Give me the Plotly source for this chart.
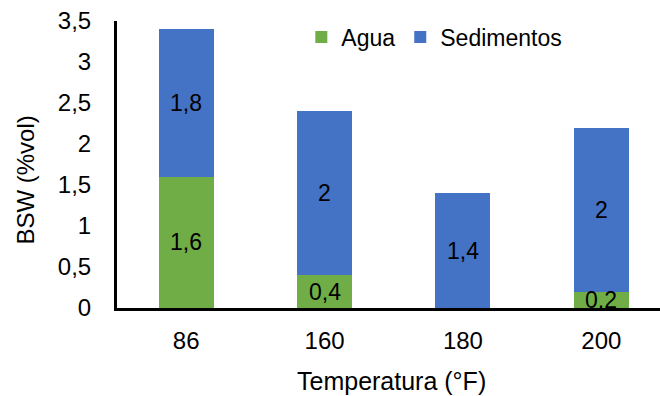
import plotly.graph_objects as go

# Temperatura (°F) vs BSW split into water and sediments
temperaturas = ["86", "160", "180", "200"]
agua = [1.6, 0.4, 0.0, 0.2]
sedimentos = [1.8, 2.0, 1.4, 2.0]
y_ticks = [0, 0.5, 1, 1.5, 2, 2.5, 3, 3.5]

VERDE = "#70AD47"
AZUL = "#4472C4"
FONT = "Liberation Sans, Arial, sans-serif"

W, H = 660, 396
M_L, M_R, M_T, M_B = 116.5, 0, 21, 88
plot_w = W - M_L - M_R
plot_h = H - M_T - M_B
cat_step = 138.5  # px per category
x_end = -0.5 + plot_w / cat_step


def fmt(v):
    return f"{v:g}".replace(".", ",")


fig = go.Figure()
fig.add_trace(go.Bar(name="Agua", x=temperaturas, y=agua,
                     marker=dict(color=VERDE, line=dict(width=0))))
fig.add_trace(go.Bar(name="Sedimentos", x=temperaturas, y=sedimentos,
                     marker=dict(color=AZUL, line=dict(width=0))))

# value labels centred in each stacked segment (x given as category index)
annotations = []
for i, (a, s) in enumerate(zip(agua, sedimentos)):
    if a > 0:
        annotations.append(dict(x=i, y=a / 2, xref="x", yref="y", text=fmt(a),
                                showarrow=False, font=dict(size=23, color="black", family=FONT)))
    if s > 0:
        annotations.append(dict(x=i, y=a + s / 2, xref="x", yref="y", text=fmt(s),
                                showarrow=False, font=dict(size=23, color="black", family=FONT)))


def px_to_paper_x(px):
    return (px - M_L) / plot_w


def px_to_paper_y(py):
    return (H - M_B - py) / plot_h


annotations.append(dict(x=px_to_paper_x(24), y=px_to_paper_y(180), xref="paper", yref="paper",
                        text="BSW (%vol)", textangle=-90, showarrow=False,
                        xanchor="center", yanchor="middle",
                        font=dict(size=24, color="black", family=FONT)))
annotations.append(dict(x=px_to_paper_x(391), y=px_to_paper_y(381), xref="paper", yref="paper",
                        text="Temperatura (°F)", showarrow=False,
                        xanchor="center", yanchor="middle",
                        font=dict(size=25, color="black", family=FONT)))

fig.update_layout(
    width=W, height=H,
    margin=dict(l=M_L, r=M_R, t=M_T, b=M_B, pad=0),
    barmode="stack",
    bargap=0.603,
    separators=",.",
    paper_bgcolor="white",
    plot_bgcolor="white",
    font=dict(family=FONT, color="black", size=24),
    showlegend=True,
    legend=dict(orientation="h", x=px_to_paper_x(301), y=px_to_paper_y(37),
                xanchor="left", yanchor="middle", bgcolor="rgba(0,0,0,0)",
                traceorder="normal",
                font=dict(size=23, color="black", family=FONT),
                itemsizing="constant", tracegroupgap=0),
    annotations=annotations,
)
fig.update_xaxes(type="category", range=[-0.5, x_end], showline=True, linewidth=3,
                 linecolor="black", showgrid=False, ticks="", ticklabelstandoff=9,
                 tickfont=dict(size=24, color="black", family=FONT), zeroline=False)
fig.update_yaxes(range=[0, 3.5], tickvals=y_ticks, showline=True, linewidth=3,
                 linecolor="black", showgrid=False, ticks="", ticklabelstandoff=18,
                 tickfont=dict(size=24, color="black", family=FONT), zeroline=False)

fig.write_html("out.html")
